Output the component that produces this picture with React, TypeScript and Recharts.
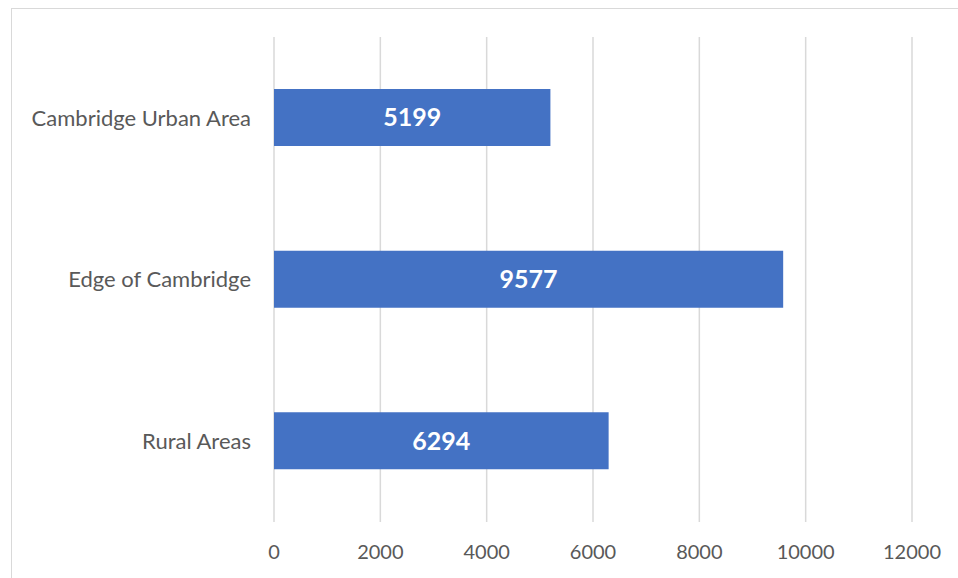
import { BarChart, Bar, XAxis, YAxis, CartesianGrid, LabelList } from "recharts";

const areas = ["Cambridge Urban Area", "Edge of Cambridge", "Rural Areas"];
const counts = [5199, 9577, 6294];
const xTicks = [0, 2000, 4000, 6000, 8000, 10000, 12000];

const chartData = areas.map((name, i) => ({ name, count: counts[i] }));

export default function App() {
  return (
    <div style={{ position: "absolute", left: 0, top: 0, width: 958, height: 578, overflow: "hidden", background: "#fff" }}>
      <div
        style={{
          position: "absolute",
          left: 11,
          top: 8,
          width: 1000,
          height: 1000,
          border: "1.5px solid #d9d9d9",
        }}
      />
      <BarChart
        width={958}
        height={578}
        data={chartData}
        layout="vertical"
        margin={{ top: 37, right: 46, bottom: 0, left: 10 }}
        style={{ fontFamily: "Lato, 'Noto Sans', sans-serif" }}
      >
        <CartesianGrid horizontal={false} stroke="#d9d9d9" strokeWidth={1.5} />
        <XAxis
          type="number"
          domain={[0, 12000]}
          ticks={xTicks}
          axisLine={false}
          tickLine={false}
          tickMargin={17}
          height={56}
          tick={{ fill: "#595959", fontSize: 20 }}
        />
        <YAxis
          type="category"
          dataKey="name"
          width={264}
          axisLine={false}
          tickLine={false}
          tickMargin={17}
          tick={{ fill: "#595959", fontSize: 22 }}
        />
        <Bar dataKey="count" fill="#4472c4" barSize={57} isAnimationActive={false}>
          <LabelList dataKey="count" position="center" fill="#ffffff" fontSize={25} fontWeight="bold" />
        </Bar>
      </BarChart>
    </div>
  );
}
